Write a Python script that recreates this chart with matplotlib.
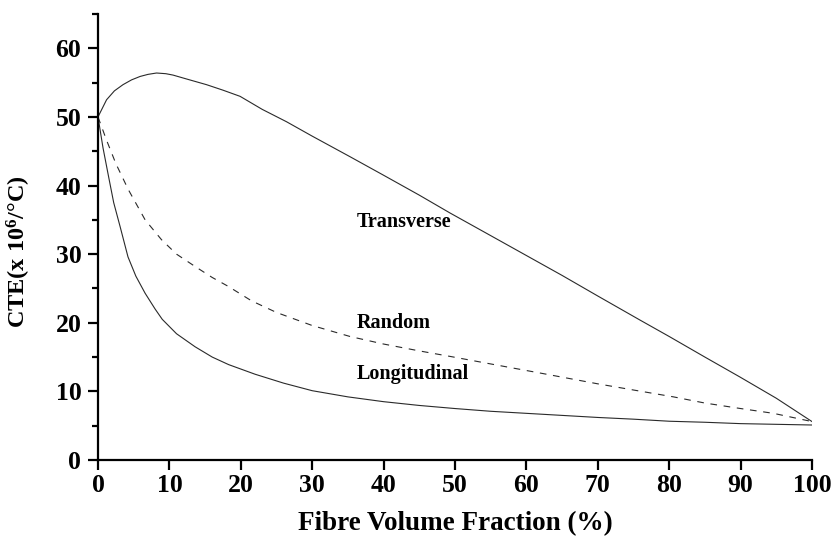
import matplotlib
matplotlib.use("Agg")
import matplotlib.pyplot as plt
from matplotlib.ticker import MultipleLocator

plt.rcParams["font.family"] = ["Liberation Serif", "DejaVu Serif"]
plt.rcParams["font.weight"] = "bold"
plt.rcParams["mathtext.fontset"] = "custom"
plt.rcParams["mathtext.rm"] = "Liberation Serif:bold"
plt.rcParams["mathtext.bf"] = "Liberation Serif:bold"
plt.rcParams["mathtext.it"] = "Liberation Serif:bold"

# Fibre volume fraction (%) and CTE (x 10^-6 / °C) for each orientation
long_x = [0, 0.7, 1.5, 2.2, 3.1, 4.2, 5.3, 6.6, 8.0, 9.0, 11.0, 13.6, 16.0, 18.3,
          22, 26, 30, 35, 40, 45, 50, 55, 60, 65, 70, 75, 80, 85, 90, 95, 100]
long_y = [50, 45.5, 41.2, 37.5, 34.0, 29.6, 26.8, 24.3, 22.0, 20.5, 18.4, 16.5, 15.0, 13.9,
          12.5, 11.2, 10.1, 9.2, 8.5, 7.95, 7.5, 7.1, 6.8, 6.5, 6.2, 5.95, 5.65, 5.5, 5.3, 5.2, 5.1]

rand_x = [0, 1.2, 2.5, 4.25, 6.6, 8.9, 11, 13.6, 16, 18.25, 21.5, 25, 30, 35.3, 40, 45,
          49.3, 55, 62.3, 70, 75, 80.6, 85, 90, 94.6, 100]
rand_y = [50, 46.6, 43.2, 39.4, 35.0, 32.1, 30.0, 28.2, 26.6, 25.3, 23.2, 21.5, 19.6, 18.0,
          16.9, 15.9, 15.1, 14.0, 12.6, 11.1, 10.2, 9.2, 8.3, 7.5, 6.8, 5.6]

trans_x = [0, 1.2, 2.3, 3.5, 4.7, 5.9, 7, 8.2, 9.5, 10.5, 12.5, 15.2, 17.5, 19.9, 23, 26.4,
           30, 35.3, 40, 45, 49.3, 55, 60, 65, 70, 75.9, 80, 85, 89.9, 95, 100]
trans_y = [50, 52.5, 53.8, 54.7, 55.4, 55.9, 56.2, 56.4, 56.3, 56.1, 55.5, 54.7, 53.9, 53.0,
           51.1, 49.3, 47.2, 44.2, 41.5, 38.6, 36.0, 32.7, 29.8, 26.9, 23.9, 20.4, 18.0, 15.0,
           12.1, 9.0, 5.6]

labels = ["Transverse", "Random", "Longitudinal"]
label_x = [36.2, 36.2, 36.2]
label_y = [34.7, 19.9, 12.6]

x_ticks = list(range(0, 101, 10))
y_ticks = list(range(0, 61, 10))

fig = plt.figure(figsize=(8.34, 5.39), dpi=100)
ax = fig.add_axes([98 / 834, 1 - 460 / 539, 714 / 834, 446 / 539])

line_col = "#2a2a2a"
ax.plot(trans_x, trans_y, color=line_col, lw=0.8)
ax.plot(rand_x, rand_y, color=line_col, lw=0.8, linestyle=(0, (6, 6)))
ax.plot(long_x, long_y, color=line_col, lw=0.8)

for t, lx, ly in zip(labels, label_x, label_y):
    ax.text(lx, ly, t, fontsize=14.5, fontweight="bold", ha="left", va="center")

ax.set_xlim(0, 100)
ax.set_ylim(0, 65)
ax.set_xticks(x_ticks)
ax.set_yticks(y_ticks)
ax.yaxis.set_minor_locator(MultipleLocator(5))

for side in ("top", "right"):
    ax.spines[side].set_visible(False)
for side in ("left", "bottom"):
    ax.spines[side].set_linewidth(1.6)

ax.tick_params(axis="both", which="major", direction="out", length=7, width=1.6,
               labelsize=18.5, colors="black")
ax.tick_params(axis="x", pad=3)
ax.tick_params(axis="y", pad=5)
ax.tick_params(axis="y", which="minor", direction="out", length=4, width=1.6)
for lbl in ax.get_xticklabels() + ax.get_yticklabels():
    lbl.set_fontweight("bold")

ax.set_xlabel("Fibre Volume Fraction (%)", fontsize=19.5, fontweight="bold")
ax.set_ylabel("CTE(x 10$^{6}$/°C)", fontsize=17.5, fontweight="bold")
ax.xaxis.set_label_coords(0.5, -0.115)
ax.yaxis.set_label_coords(-0.091, 0.466)

fig.savefig("out.png", dpi=100)
